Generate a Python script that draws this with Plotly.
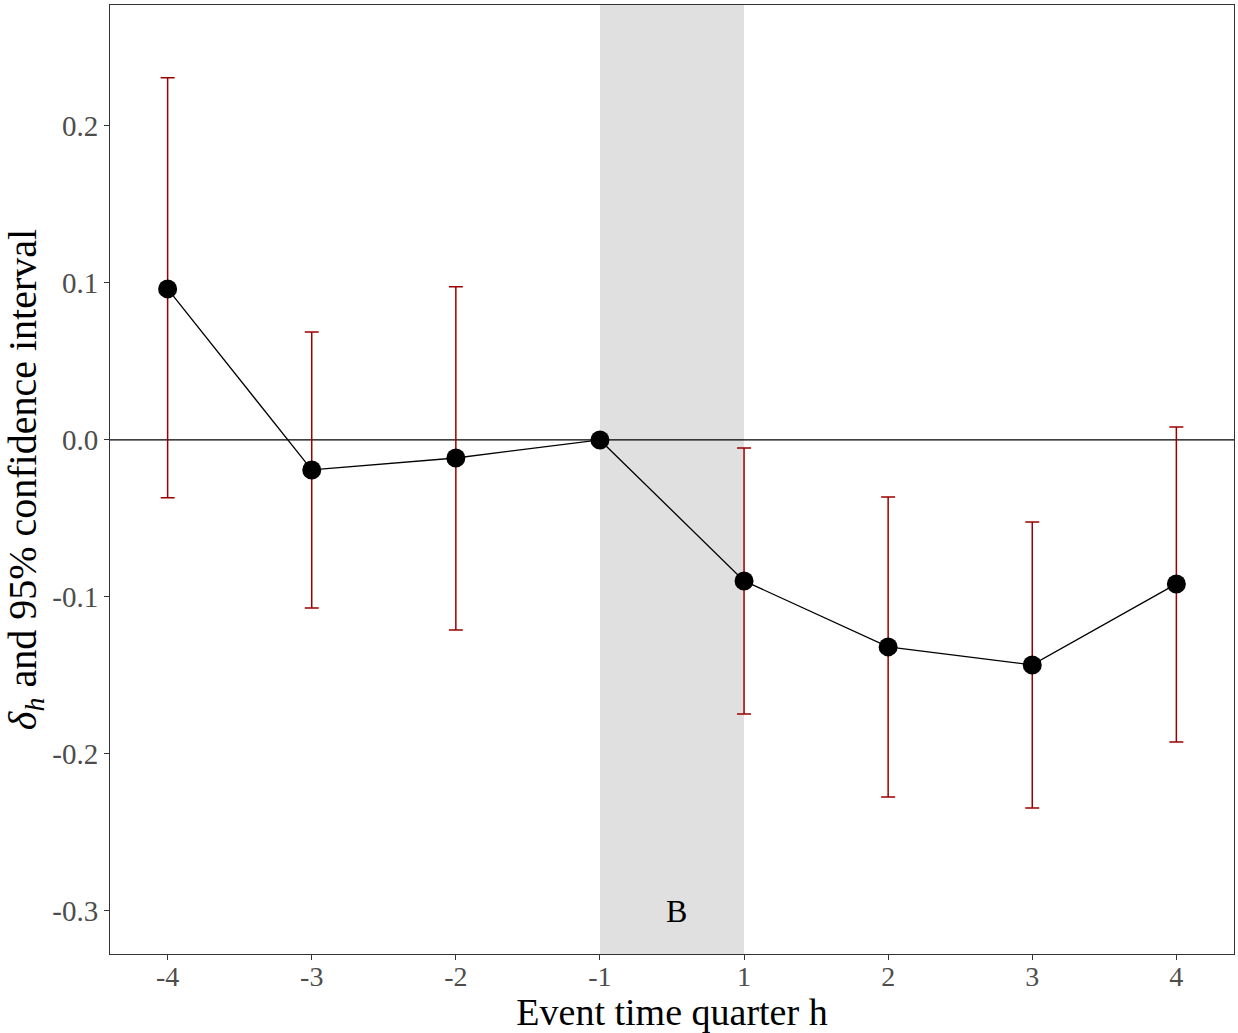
import plotly.graph_objects as go

quarters = ["-4", "-3", "-2", "-1", "1", "2", "3", "4"]
estimates = [0.0962, -0.0191, -0.0115, 0.0, -0.0898, -0.1318, -0.1433, -0.0917]
ci_upper = [0.2306, 0.0688, 0.0975, None, -0.0051, -0.0363, -0.0522, 0.0083]
ci_lower = [-0.0369, -0.1070, -0.1210, None, -0.1745, -0.2274, -0.2344, -0.1924]
y_ticks = [-0.3, -0.2, -0.1, 0.0, 0.1, 0.2]
y_tick_labels = ["-0.3", "-0.2", "-0.1", "0.0", "0.1", "0.2"]
shade_from, shade_to = "-1", "1"
label_text = "B"

xpos = list(range(1, len(quarters) + 1))
pos = dict(zip(quarters, xpos))

has_ci = [u is not None for u in ci_upper]
ex = [x for x, h in zip(xpos, has_ci) if h]
ey = [e for e, h in zip(estimates, has_ci) if h]
ep = [u - e for u, e, h in zip(ci_upper, estimates, has_ci) if h]
em = [e - l for l, e, h in zip(ci_lower, estimates, has_ci) if h]

FONT = "Liberation Serif"

fig = go.Figure()

fig.add_shape(type="rect", xref="x", yref="paper",
              x0=pos[shade_from], x1=pos[shade_to], y0=0, y1=1,
              fillcolor="#e0e0e0", line_width=0, layer="below")

fig.add_hline(y=0, line_color="black", line_width=1.3, layer="below")

fig.add_trace(go.Scatter(
    x=ex, y=ey, mode="markers", marker=dict(size=1, color="rgba(0,0,0,0)"),
    error_y=dict(type="data", array=ep, arrayminus=em, symmetric=False,
                 color="#9c0000", thickness=1.5, width=7),
    showlegend=False, hoverinfo="skip"))

fig.add_trace(go.Scatter(
    x=xpos, y=estimates, mode="lines+markers",
    line=dict(color="black", width=1.3),
    marker=dict(size=19, color="black"),
    showlegend=False))

fig.add_annotation(x=(pos[shade_from] + pos[shade_to]) / 2 + 0.03, y=-0.3,
                   text=label_text, showarrow=False,
                   font=dict(family=FONT, size=32, color="black"))

fig.update_layout(
    width=1238, height=1033,
    margin=dict(l=110, r=4, t=5, b=79),
    plot_bgcolor="white", paper_bgcolor="white",
    font=dict(family=FONT),
    xaxis=dict(range=[0.6, 8.4], tickvals=xpos, ticktext=quarters,
               automargin=False,
               showgrid=False, zeroline=False,
               ticks="outside", ticklen=5, tickcolor="#333333", tickwidth=1,
               ticklabelstandoff=-8,
               tickfont=dict(family=FONT, size=28, color="#4d4d4d"),
               showline=True, linecolor="#333333", linewidth=1, mirror=True,
               title=dict(text="Event time quarter h", standoff=0,
                          font=dict(family=FONT, size=38, color="black"))),
    yaxis=dict(range=[-0.3274, 0.277], tickvals=y_ticks, ticktext=y_tick_labels,
               automargin=False,
               showgrid=False, zeroline=False,
               ticks="outside", ticklen=5, tickcolor="#333333", tickwidth=1,
               tickfont=dict(family=FONT, size=29, color="#4d4d4d"),
               showline=True, linecolor="#333333", linewidth=1, mirror=True,
               title=dict(text="<i>δ<sub>h</sub></i> and 95% confidence interval",
                          standoff=6,
                          font=dict(family=FONT, size=40, color="black"))),
)

fig.write_html("out.html", config={"displayModeBar": False},
               post_script="document.body.style.margin='0';document.body.style.overflow='hidden';")
